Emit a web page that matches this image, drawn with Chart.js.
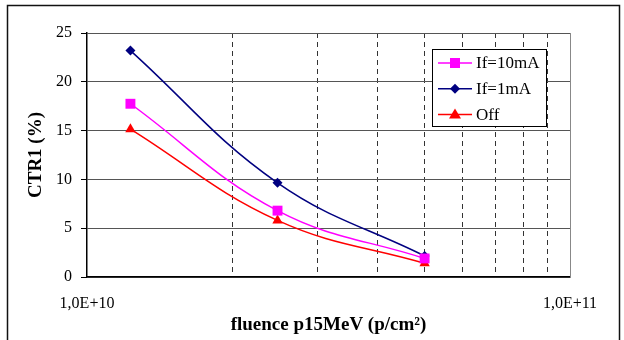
<!DOCTYPE html>
<html>
<head>
<meta charset="utf-8">
<script src="https://cdn.jsdelivr.net/npm/chart.js@4/dist/chart.umd.min.js"></script>
<style>
  html, body { margin: 0; padding: 0; background: #fff; }
  canvas { display: block; }
</style>
</head>
<body>
<canvas id="myChart" width="624" height="340"></canvas>
<script>
// values
const fluence = [1.23e10, 2.48e10, 5e10];
const if10mA = [17.75, 6.8, 1.9];
const if1mA = [23.2, 9.65, 2.15];
const off = [15.15, 5.8, 1.4];
const xGridValues = [1e10, 2e10, 3e10, 4e10, 5e10, 6e10, 7e10, 8e10, 9e10, 1e11];
const xTickValues = [1e10, 1e11];
const xTickLabels = ['1,0E+10', '1,0E+11'];
const seriesNames = ['If=10mA', 'If=1mA', 'Off'];

const serif = '"Liberation Serif", "Times New Roman", serif';
Chart.defaults.font.family = serif;
Chart.defaults.color = '#000';

const pts = (ys) => fluence.map((x, i) => ({x: x, y: ys[i]}));

// white page + outer frame
const framePlugin = {
    id: 'frame',
    beforeDraw(chart) {
        const c = chart.ctx;
        c.save();
        c.fillStyle = '#fff';
        c.fillRect(0, 0, chart.width, chart.height);
        c.strokeStyle = '#111';
        c.lineWidth = 1.5;
        c.strokeRect(7.5, 5.5, 612, 350);
        c.restore();
    }
};

function marker(c, style, x, y, color) {
    c.fillStyle = color;
    c.beginPath();
    if (style === 'rect') {
        c.rect(x - 5, y - 5, 10, 10);
    } else if (style === 'rectRot') {
        c.moveTo(x, y - 5); c.lineTo(x + 5, y); c.lineTo(x, y + 5); c.lineTo(x - 5, y);
    } else {
        c.moveTo(x, y - 6); c.lineTo(x + 6, y + 4); c.lineTo(x - 6, y + 4);
    }
    c.closePath();
    c.fill();
}

// boxed legend inside the plot, like the original
const boxLegend = {
    id: 'boxLegend',
    afterDatasetsDraw(chart) {
        const c = chart.ctx;
        const bx = 432, by = 49, bw = 114, bh = 77;
        c.save();
        c.fillStyle = '#fff';
        c.fillRect(bx, by, bw, bh);
        c.strokeStyle = '#000';
        c.lineWidth = 1;
        c.strokeRect(bx + 0.5, by + 0.5, bw, bh);
        c.font = '17px ' + serif;
        c.textBaseline = 'middle';
        chart.data.datasets.forEach((ds, i) => {
            const y = by + 14 + i * 25.8;
            c.strokeStyle = ds.borderColor;
            c.lineWidth = 1.5;
            c.beginPath();
            c.moveTo(bx + 6, y);
            c.lineTo(bx + 40, y);
            c.stroke();
            marker(c, ds.pointStyle, bx + 23, y, ds.borderColor);
            c.fillStyle = '#000';
            c.fillText(ds.label, bx + 44, y + 1);
        });
        c.restore();
    }
};

const ctx = document.getElementById('myChart').getContext('2d');
let chart = new Chart(ctx, {
    type: 'line',
    data: {
        datasets: [
            {label: seriesNames[0], data: pts(if10mA), borderColor: '#ff00ff', backgroundColor: '#ff00ff',
             pointStyle: 'rect', pointRadius: 7},
            {label: seriesNames[1], data: pts(if1mA), borderColor: '#000080', backgroundColor: '#000080',
             pointStyle: 'rectRot', pointRadius: 5},
            {label: seriesNames[2], data: pts(off), borderColor: '#ff0000', backgroundColor: '#ff0000',
             pointStyle: 'triangle', pointRadius: 6},
        ],
    },
    options: {
        responsive: false,
        animation: false,
        layout: {padding: {top: 33, right: 54, left: 0, bottom: 0}},
        elements: {
            line: {borderWidth: 1.5, tension: 0.4, fill: false},
            point: {borderWidth: 0, hoverRadius: 5},
        },
        plugins: {
            legend: {display: false},
            tooltip: {enabled: false},
        },
        scales: {
            x: {
                type: 'logarithmic',
                position: 'bottom',
                min: 1e10,
                max: 1e11,
                afterBuildTicks: (s) => { s.ticks = xGridValues.map(v => ({value: v})); },
                afterFit: (s) => { s.height = 63; },
                grid: {
                    drawTicks: false,
                    lineWidth: 1,
                    color: (c) => {
                        const v = c.tick ? c.tick.value : 0;
                        return (v <= 1e10 || v >= 1e11) ? 'rgba(0,0,0,0)' : '#333';
                    },
                },
                border: {display: true, color: '#000', width: 1.5, dash: [5, 4]},
                ticks: {
                    autoSkip: false,
                    maxRotation: 0,
                    padding: 17,
                    font: {size: 16},
                    callback: (v) => {
                        const k = xTickValues.indexOf(v);
                        return k >= 0 ? xTickLabels[k] : '';
                    },
                },
                title: {
                    display: true,
                    text: 'fluence p15MeV (p/cm²)',
                    font: {size: 19, weight: 'bold'},
                    padding: {top: 0, bottom: 4},
                },
            },
            y: {
                position: 'left',
                min: 0,
                max: 25,
                afterFit: (s) => { s.width = 87; },
                grid: {color: '#555', lineWidth: 1, tickLength: 6, tickColor: '#000'},
                border: {display: true, color: '#000', width: 1.5},
                ticks: {stepSize: 5, padding: 9, font: {size: 16}},
                title: {
                    display: true,
                    text: 'CTR1 (%)',
                    font: {size: 19, weight: 'bold'},
                    padding: {top: 25, bottom: 0},
                },
            },
            right: {
                type: 'linear',
                position: 'right',
                min: 0,
                max: 1,
                afterFit: (s) => { s.width = 0; },
                grid: {display: false, drawTicks: false},
                border: {display: true, color: '#888', width: 1},
                ticks: {display: false},
            },
        },
    },
    plugins: [framePlugin, boxLegend],
});
</script>
</body>
</html>
